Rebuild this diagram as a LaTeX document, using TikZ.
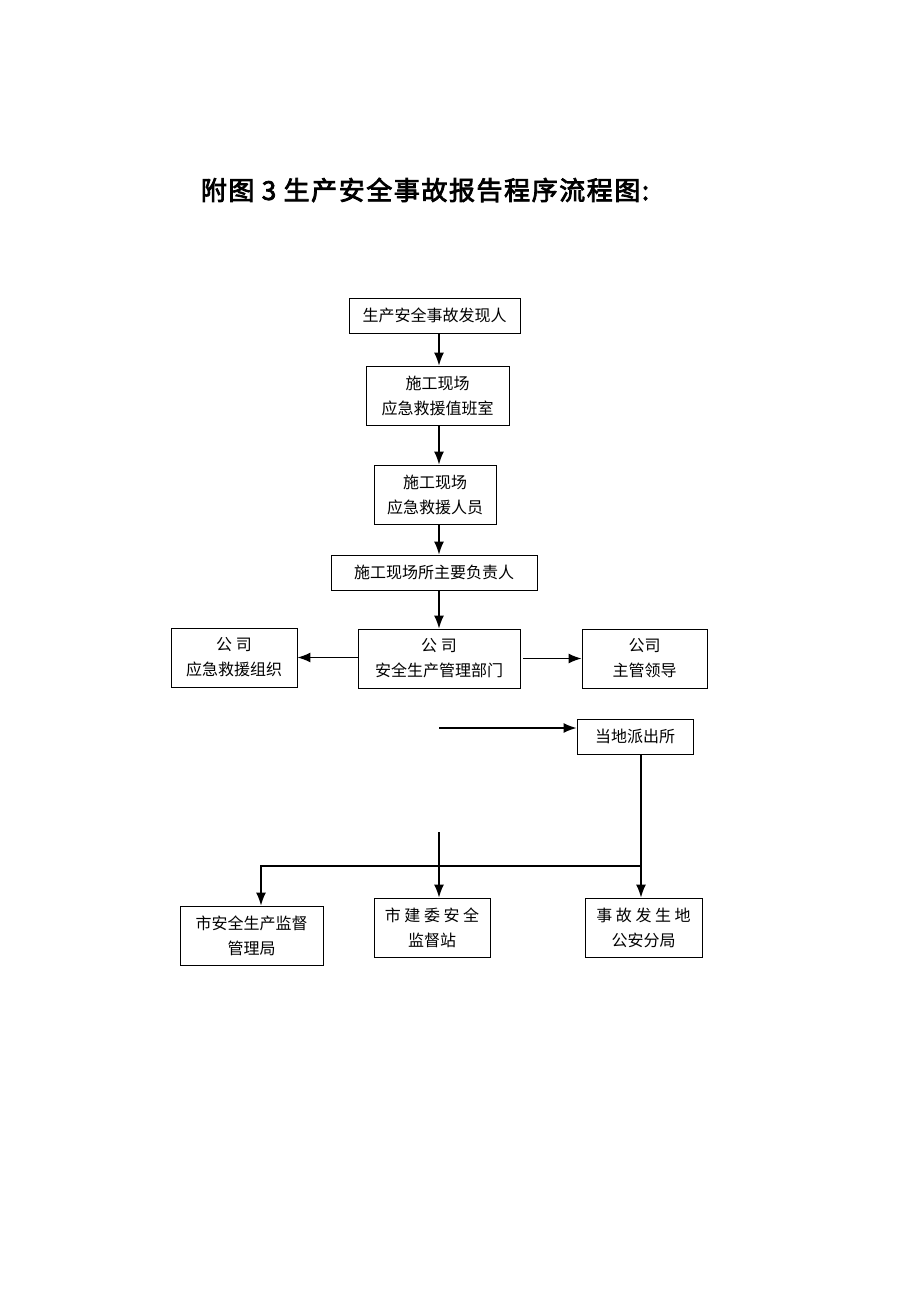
\documentclass[tikz,border=0pt]{standalone}
\usepackage{fontspec}
\setmainfont{Noto Sans CJK SC}
\newfontfamily\titlefont[FakeBold=3, LetterSpace=6]{Noto Sans CJK SC}
\usepackage{tikz}
\usetikzlibrary{positioning, calc, arrows.meta}

\tikzset{
	box/.style={draw, line width=0.8pt, minimum width=#1, inner sep=0pt, align=center, font=\fontsize{16}{25}\selectfont},
	onerow/.style={minimum height=35pt},
	tworow/.style={minimum height=59pt},
	arr/.style={line width=1.5pt, -{Latex[length=13pt,width=10pt]}},
	link/.style={line width=1.5pt}
}

\begin{document}
\begin{tikzpicture}[x=1pt, y=-1pt]
		
		\useasboundingbox (0,0) rectangle (920,1302);
		
		%//title
		\node [font=\fontsize{26}{30}\selectfont\titlefont] (title) at (425,190) {附图 3 生产安全事故报告程序流程图:};
		
		%//main column
		\node [box=171pt, onerow] (finder) at (434.5,315.5) {生产安全事故发现人};
		\node [box=143pt, tworow] (duty) at (437.5,395.5) {施工现场\\应急救援值班室};
		\node [box=122pt, tworow] (rescuer) at (435,494.5) {施工现场\\应急救援人员};
		\node [box=206pt, onerow] (head) at (434,572.5) {施工现场所主要负责人};
		\node [box=162pt, tworow] (dept) at (439,658.5) {公 司\\安全生产管理部门};
		
		%//company row
		\node [box=126pt, tworow] (org) at (234,657.5) {公 司\\应急救援组织};
		\node [box=125pt, tworow] (leader) at (644.5,658.5) {公司\\主管领导};
		\node [box=116pt, onerow] (police) at (635,736.5) {当地派出所};
		
		%//authorities
		\node [box=143pt, tworow] (safety) at (251.5,935.5) {市安全生产监督\\管理局};
		\node [box=116pt, tworow] (station) at (432,927.5) {市 建 委 安 全\\监督站};
		\node [box=117pt, tworow] (bureau) at (643.5,927.5) {事 故 发 生 地\\公安分局};
		
		\coordinate (spine) at (439,0);
		\coordinate (pstart) at (439,728);
		\coordinate (mid) at (439,832);
		\coordinate (drop) at (641,866);
		\coordinate (lft) at (261,866);
		
		\foreach \a/\b in {finder/duty, duty/rescuer, rescuer/head, head/dept}
		\draw [arr, shorten <=1pt] (spine |- \a.south) -- (spine |- \b.north);
		
		\draw [arr] (dept.west |- org) -- (org.east);
		\draw [arr, shorten <=3pt] (dept.east) -- (leader.west);
		\draw [arr] (pstart) -- (police.west |- pstart);
		
		\draw [arr] (drop |- police.south) -- (drop |- bureau.north);
		\draw [arr] (drop) -- (lft) -- (lft |- safety.north);
		\draw [arr] (mid) -- (mid |- station.north);
		
		\end{tikzpicture}
\end{document}
